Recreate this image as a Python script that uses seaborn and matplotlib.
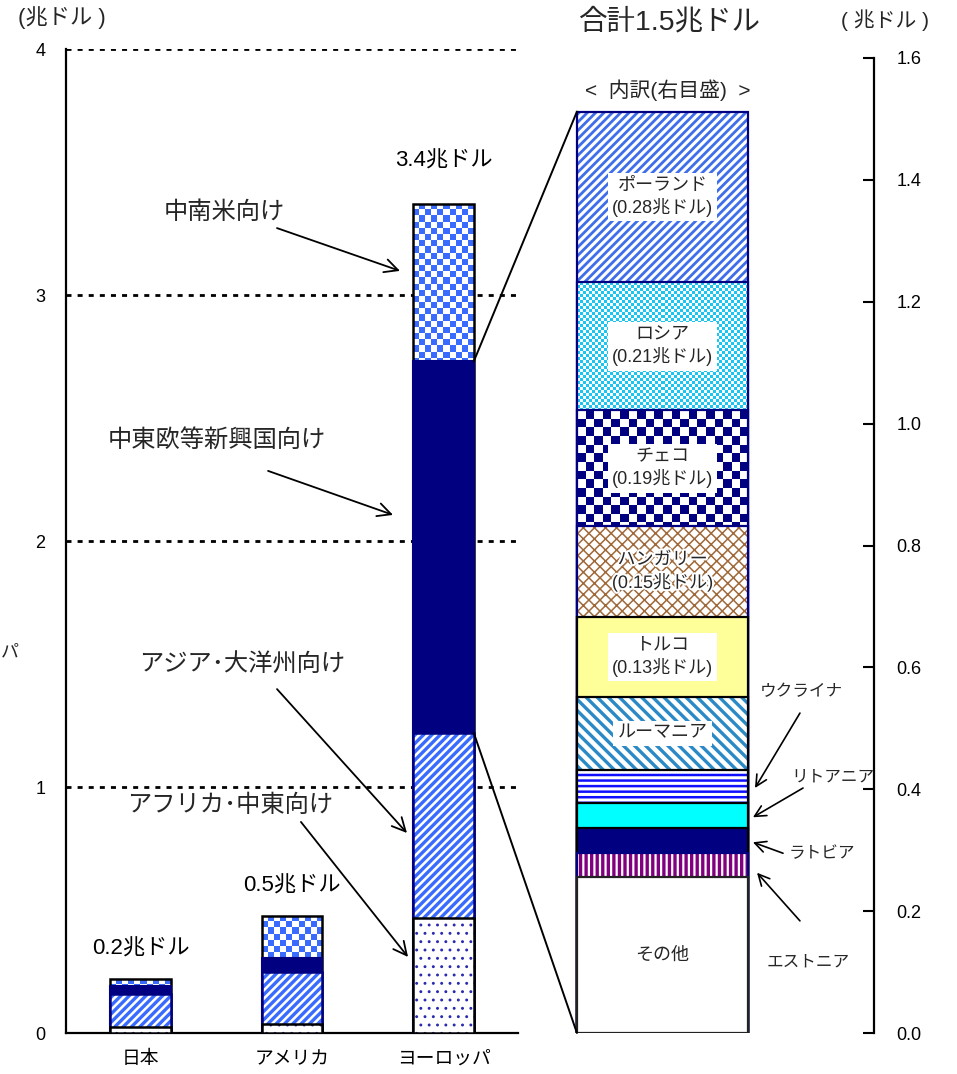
import numpy as np
import matplotlib
matplotlib.use("Agg")
import matplotlib as mpl
import matplotlib.pyplot as plt
import matplotlib.patheffects as pe
from matplotlib.colors import ListedColormap
from matplotlib.patches import ConnectionPatch
import seaborn as sns

# ---- data -------------------------------------------------------------
regions = ["日本", "アメリカ", "ヨーロッパ"]
africa_mideast = [0.025, 0.037, 0.467]   # アフリカ・中東向け
asia_oceania = [0.135, 0.211, 0.753]     # アジア・大洋州向け
cee_emerging = [0.030, 0.057, 1.510]     # 中東欧等新興国向け
latin_america = [0.030, 0.171, 0.640]    # 中南米向け
region_total_labels = ["0.2兆ドル", "0.5兆ドル", "3.4兆ドル"]

# breakdown of the CEE/emerging exposure, listed from the top of the stack down
countries = ["ポーランド", "ロシア", "チェコ", "ハンガリー", "トルコ", "ルーマニア",
             "ウクライナ", "リトアニア", "ラトビア", "エストニア", "その他"]
country_values = [0.28, 0.21, 0.19, 0.15, 0.13, 0.12, 0.054, 0.041, 0.041, 0.040, 0.256]
country_labels = ["ポーランド\n(0.28兆ドル)", "ロシア\n(0.21兆ドル)", "チェコ\n(0.19兆ドル)",
                  "ハンガリー\n(0.15兆ドル)", "トルコ\n(0.13兆ドル)", "ルーマニア",
                  None, None, None, None, "その他"]

left_ticks = [0, 1, 2, 3, 4]
right_ticks = [0.0, 0.2, 0.4, 0.6, 0.8, 1.0, 1.2, 1.4, 1.6]

# ---- style --------------------------------------------------------------
sns.set_theme(style="white")
plt.rcParams["font.family"] = ["Liberation Sans", "Noto Sans CJK JP"]
plt.rcParams["axes.unicode_minus"] = False

NAVY = "#000080"
BLUE = "#3A6BFF"

W, H = 957, 1074
fig = plt.figure(figsize=(W / 100, H / 100), dpi=100)


def px_rect(x0, y0, x1, y1):
    return [x0 / W, 1 - y1 / H, (x1 - x0) / W, (y1 - y0) / H]


ax = fig.add_axes(px_rect(66, 49, 518, 1033))
axr = fig.add_axes(px_rect(560, 58, 874, 1033))

checker_jobs = []


def layer(axis, cats, tops, width, z, face="white", edge="black", lw=1.6,
          hatch=None, hatch_color=None, hatch_lw=1.0, checker=None):
    """Draw one cumulative layer of a stacked bar with seaborn."""
    common = dict(x=cats, y=tops, order=cats, width=width, errorbar=None, ax=axis)
    if hatch:
        n0 = len(axis.patches)
        with mpl.rc_context({"hatch.linewidth": hatch_lw}):
            sns.barplot(**common, facecolor=face, edgecolor=hatch_color, hatch=hatch,
                        linewidth=0, zorder=z)
        for p in axis.patches[n0:]:
            if hasattr(p, "set_hatch_linewidth"):
                p.set_hatch_linewidth(hatch_lw)
    else:
        n0 = len(axis.patches)
        sns.barplot(**common, facecolor=face, edgecolor="none", linewidth=0, zorder=z)
        if checker is not None:
            checker_jobs.append((axis, list(axis.patches[n0:]), checker[0], checker[1], z + 0.2))
    sns.barplot(**common, facecolor="none", edgecolor=edge, linewidth=lw, zorder=z + 0.5)


def apply_checkers():
    for axis, patches, color, cell, z in checker_jobs:
        cmap = ListedColormap(["white", color])
        for p in patches:
            x0, y0, w, h = p.get_x(), p.get_y(), p.get_width(), p.get_height()
            bb = p.get_window_extent()
            nx = max(1, int(round(bb.width / cell)))
            ny = max(1, int(round(bb.height / cell)))
            grid = np.add.outer(np.arange(ny), np.arange(nx)) % 2
            im = axis.imshow(grid, extent=(x0, x0 + w, y0, y0 + h), cmap=cmap,
                             interpolation="nearest", origin="upper", aspect="auto",
                             zorder=z, vmin=0, vmax=1)
            im.set_clip_path(p)


# ---- left panel: stacked exposure by region ------------------------------
cum1 = np.array(africa_mideast)
cum2 = cum1 + np.array(asia_oceania)
cum3 = cum2 + np.array(cee_emerging)
cum4 = cum3 + np.array(latin_america)

BW = 0.40
layer(ax, regions, cum4, BW, 2, edge="black", lw=1.8, checker=(BLUE, 6.2))
layer(ax, regions, cum3, BW, 3, face=NAVY, edge=NAVY, lw=1.5)
layer(ax, regions, cum2, BW, 4, hatch="////", hatch_color=BLUE, hatch_lw=2.4, edge=NAVY, lw=1.8)
layer(ax, regions, cum1, BW, 5, hatch="..", hatch_color="#2A2AB0", hatch_lw=0.9, edge="black", lw=1.8)

for yv in left_ticks[1:]:
    ax.axhline(yv, color="black", lw=2.0, ls=(0, (1.8, 2.2)), zorder=0.5)

ax.set_xlim(-0.492, 2.492)
ax.set_ylim(0, 4)
ax.set_yticks(left_ticks)
ax.set_yticklabels([str(t) for t in left_ticks])
ax.set_xlabel("")
ax.set_ylabel("")
ax.tick_params(axis="y", length=0, pad=15, labelsize=13, colors="black")
ax.tick_params(axis="x", length=0, pad=13, labelsize=13.5, colors="black")
for s in ["top", "right"]:
    ax.spines[s].set_visible(False)
for s in ["left", "bottom"]:
    ax.spines[s].set_color("black")
    ax.spines[s].set_linewidth(1.6)
ax.patch.set_alpha(0)

total_offsets = [0.08, 0.08, 0.13]
for i, (lab, tot) in enumerate(zip(region_total_labels, cum4)):
    ax.text(i, tot + total_offsets[i], lab, ha="center", va="bottom", fontsize=16,
            color="black", zorder=10)

arrow = dict(arrowstyle="->", color="black", lw=1.3, mutation_scale=24, shrinkA=0, shrinkB=0)
ANN = 17.5
ax.annotate("", xy=(1.713, 3.098), xytext=(0.901, 3.272), arrowprops=arrow, zorder=10)
ax.text(0.551, 3.333, "中南米向け", ha="center", va="center", fontsize=ANN)
ax.annotate("", xy=(1.667, 2.106), xytext=(0.842, 2.285), arrowprops=arrow, zorder=10)
ax.text(0.505, 2.410, "中東欧等新興国向け", ha="center", va="center", fontsize=ANN)
ax.annotate("", xy=(1.759, 0.813), xytext=(0.901, 1.398), arrowprops=arrow, zorder=10)
ax.text(0.670, 1.496, "アジア･大洋州向け", ha="center", va="center", fontsize=ANN)
ax.annotate("", xy=(1.766, 0.309), xytext=(1.059, 0.858), arrowprops=arrow, zorder=10)
ax.text(0.591, 0.923, "アフリカ･中東向け", ha="center", va="center", fontsize=ANN)

# ---- right panel: country breakdown ---------------------------------------
vals = np.array(country_values)
tops = np.array([vals[i:].sum() for i in range(len(vals))])
bottoms = tops - vals
cat = ["内訳"]

styles = [
    dict(hatch="////", hatch_color="#3F6EEA", hatch_lw=2.0, edge=NAVY),          # ポーランド
    dict(checker=("#19C6F2", 3.0), edge=NAVY),                                   # ロシア
    dict(checker=(NAVY, 8.6), edge=NAVY),                                        # チェコ
    dict(hatch="xxx", hatch_color="#A0693A", hatch_lw=1.1, edge=NAVY),          # ハンガリー
    dict(face="#FFFF99", edge="black"),                                          # トルコ
    dict(hatch="\\\\\\", hatch_color="#2B8AC6", hatch_lw=2.4, edge="black"),     # ルーマニア
    dict(hatch="---", hatch_color="#1010FF", hatch_lw=1.8, edge="black"),        # ウクライナ
    dict(face="#00FFFF", edge="black"),                                          # リトアニア
    dict(face=NAVY, edge="black"),                                               # ラトビア
    dict(hatch="|||", hatch_color="#800080", hatch_lw=2.4, edge=NAVY),           # エストニア
    dict(face="white", edge="#222222"),                                          # その他
]
for i, (t, st) in enumerate(zip(tops, styles)):
    layer(axr, cat, [t], 1.0, 2 + i, lw=1.6, **st)

axr.set_xlim(-0.599, 1.237)
axr.set_ylim(0, 1.6)
axr.set_xlabel("")
axr.set_ylabel("")
axr.set_xticks([])
axr.yaxis.tick_right()
axr.set_yticks(right_ticks)
axr.set_yticklabels([f"{t:.1f}" for t in right_ticks])
axr.tick_params(axis="y", direction="in", length=8, width=1.5, pad=16, labelsize=13,
                colors="black", right=True, left=False)
for s in ["top", "left", "bottom"]:
    axr.spines[s].set_visible(False)
axr.spines["right"].set_color("black")
axr.spines["right"].set_linewidth(1.6)
axr.patch.set_alpha(0)

boxed = {"ポーランド", "ロシア", "チェコ", "トルコ", "ルーマニア"}
for name, lab, b, t in zip(countries, country_labels, bottoms, tops):
    if lab is None:
        continue
    kw = dict(ha="center", va="center", fontsize=13, linespacing=1.3, zorder=30)
    if name in boxed:
        kw["bbox"] = dict(fc="white", ec="none", pad=3)
    elif name != "その他":
        kw["path_effects"] = [pe.withStroke(linewidth=3, foreground="white")]
    axr.text(0, (b + t) / 2, lab, **kw)

small_arrow = dict(arrowstyle="->", color="black", lw=1.2, mutation_scale=20, shrinkA=0, shrinkB=0)
side = [("ウクライナ", (0.810, 0.560), (0.804, 0.525), (0.541, 0.402)),
        ("リトアニア", (0.997, 0.420), (0.822, 0.402), (0.529, 0.354)),
        ("ラトビア", (0.933, 0.295), (0.705, 0.295), (0.529, 0.313)),
        ("エストニア", (0.851, 0.117), (0.804, 0.184), (0.553, 0.263))]
for name, txy, start, head in side:
    axr.annotate("", xy=head, xytext=start, arrowprops=small_arrow, annotation_clip=False, zorder=30)
    axr.text(*txy, name, ha="center", va="center", fontsize=12, zorder=30, clip_on=False)

axr.text(0.03, 1.547, "<  内訳(右目盛)  >", ha="center", va="center", fontsize=15, clip_on=False)

apply_checkers()
ax.set_xlim(-0.492, 2.492)
ax.set_ylim(0, 4)
axr.set_xlim(-0.599, 1.237)
axr.set_ylim(0, 1.6)

# connector lines from the CEE segment of ヨーロッパ to the breakdown bar
x_edge = 2 + BW / 2
for yl, yr in [(cum3[2], tops[0]), (cum2[2], 0.0)]:
    con = ConnectionPatch(xyA=(x_edge, yl), coordsA=ax.transData,
                          xyB=(-0.5, yr), coordsB=axr.transData,
                          color="black", lw=1.4, zorder=20)
    fig.add_artist(con)

# headers
fig.text(62 / W, 1 - 18 / H, "(兆ドル )", ha="center", va="center", fontsize=16)
fig.text(670 / W, 1 - 22 / H, "合計1.5兆ドル", ha="center", va="center", fontsize=20.5)
fig.text(885 / W, 1 - 20 / H, "( 兆ドル )", ha="center", va="center", fontsize=15)
fig.text(0.5 / W, 1 - 652 / H, "パ", ha="left", va="center", fontsize=13)

fig.savefig("out.png", dpi=100)
